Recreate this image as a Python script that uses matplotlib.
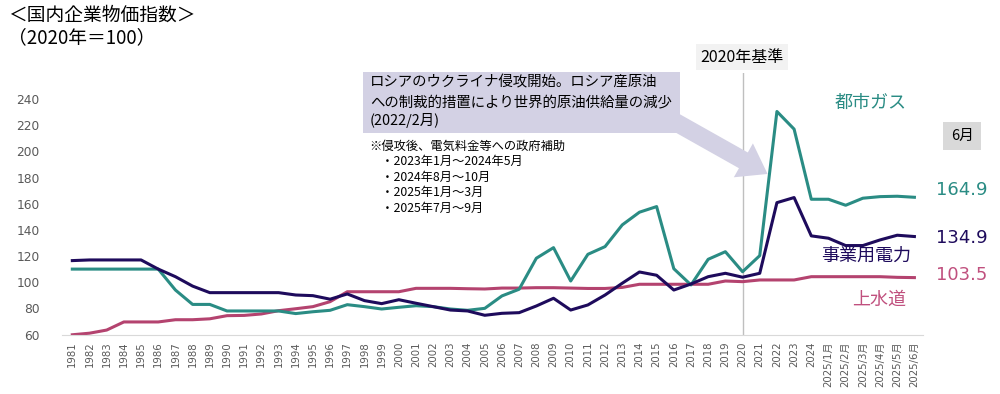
import matplotlib
matplotlib.use("Agg")
import matplotlib.pyplot as plt
from matplotlib.patches import Rectangle

plt.rcParams['font.family'] = ['Noto Sans CJK JP', 'DejaVu Sans']
num_font = ['DejaVu Sans', 'Noto Sans CJK JP']

# categories: 1981-2024 annual, then 2025 monthly
labels = [str(y) for y in range(1981, 2025)] + ['2025/1月', '2025/2月', '2025/3月',
                                                 '2025/4月', '2025/5月', '2025/6月']

gas = [110, 110, 110, 110, 110, 110, 94, 83, 83, 78,
       78, 78, 78, 76, 77.4, 78.5, 82.8, 81.3, 79.5, 80.8,
       82, 81.3, 79.5, 78.5, 80, 89.5, 94.6, 118.3, 126.4, 100.9,
       121.3, 127.2, 143.8, 153.5, 157.8, 110.3, 97.9, 117.5, 123.3, 108,
       120.3, 230.5, 217, 163.4,
       163.4, 158.8, 164.2, 165.4, 165.7, 164.9]

power = [116.5, 117, 117, 117, 117, 110, 104.2, 97, 92, 92,
         92, 92, 92, 90.2, 89.7, 87, 91, 85.9, 83.6, 86.6,
         83.9, 81.3, 78.7, 78, 74.7, 76.2, 76.7, 81.8, 87.7, 78.7,
         82.6, 90.2, 99.2, 107.8, 105.3, 94, 98.6, 104.2, 106.8, 103.8,
         106.8, 160.8, 164.7, 135.4,
         133.6, 128, 128, 132.3, 135.9, 134.9]

water = [59.8, 61, 63.4, 69.6, 69.6, 69.6, 71.3, 71.3, 72, 74.4,
         74.6, 75.7, 78.2, 79.7, 81.3, 85.1, 92.7, 92.7, 92.7, 92.7,
         95.3, 95.3, 95.3, 95, 94.8, 95.5, 95.5, 95.8, 95.8, 95.5,
         95.2, 95.2, 96, 98.4, 98.4, 98.4, 98.4, 98.4, 100.9, 100.4,
         101.7, 101.7, 101.7, 104.2,
         104.2, 104.2, 104.2, 104.2, 103.7, 103.5]

teal = '#2A8C84'
navy = '#1E0B5C'
pink = '#B4436F'
pink_txt = '#C0507E'
lav = '#D3D1E4'

fig = plt.figure(figsize=(10, 3.94), dpi=100)
ax = fig.add_axes([0.062, 0.151, 0.861, 0.664])

x = list(range(len(labels)))
ax.plot(x, water, color=pink, lw=2.2)
ax.plot(x, gas, color=teal, lw=2.2)
ax.plot(x, power, color=navy, lw=2.2)

ax.axvline(labels.index('2020'), color='#BFBFBF', lw=1, zorder=0)

ax.set_xlim(-0.6, 49.5)
ax.set_ylim(60, 260)
ax.set_yticks(range(60, 241, 20))
ax.set_yticklabels([str(v) for v in range(60, 241, 20)], family=num_font)
ax.set_xticks(x)
ax.set_xticklabels(labels, rotation=90, fontsize=7.3, color='#595959', family=num_font)
ax.tick_params(axis='y', labelsize=8.8, colors='#595959', length=0, pad=16)
ax.tick_params(axis='x', length=0, pad=5)
for s in ['top', 'right', 'left']:
    ax.spines[s].set_visible(False)
ax.spines['bottom'].set_color('#D9D9D9')

# titles
fig.text(0.008, 0.962, '＜国内企業物価指数＞', fontsize=13.5, va='center')
fig.text(0.008, 0.905, '（2020年＝100）', fontsize=13.5, va='center')

# 2020 base label
fig.text(0.742, 0.855, '2020年基準', fontsize=11.5, ha='center', va='center',
         bbox=dict(boxstyle='square,pad=0.3', fc='#F2F2F2', ec='none'))

# arrow + annotation box
ax.annotate('', xy=(0.770, 0.555), xycoords='figure fraction',
            xytext=(0.672, 0.695), textcoords='figure fraction',
            arrowprops=dict(arrowstyle='simple,head_width=1.4,head_length=1.0,tail_width=0.65',
                            mutation_scale=20, fc=lav, ec='none'))
fig.patches.append(Rectangle((0.363, 0.662), 0.317, 0.155, transform=fig.transFigure,
                             fc=lav, ec='none'))
fig.text(0.370, 0.790, 'ロシアのウクライナ侵攻開始。ロシア産原油', fontsize=10.4, va='center')
fig.text(0.370, 0.741, 'への制裁的措置により世界的原油供給量の減少', fontsize=10.4, va='center')
fig.text(0.370, 0.694, '(2022/2月)', fontsize=10.4, va='center')

note = ['※侵攻後、電気料金等への政府補助',
        '　・2023年1月～2024年5月',
        '　・2024年8月～10月',
        '　・2025年1月～3月',
        '　・2025年7月～9月']
for i, line in enumerate(note):
    fig.text(0.369, 0.628 - i * 0.039, line, fontsize=8.8, va='center')

# series labels
fig.text(0.871, 0.738, '都市ガス', fontsize=13, color=teal, ha='center', va='center')
fig.text(0.866, 0.352, '事業用電力', fontsize=13, color=navy, ha='center', va='center')
fig.text(0.879, 0.238, '上水道', fontsize=13, color=pink_txt, ha='center', va='center')

fig.text(0.962, 0.655, '6月', fontsize=10.5, ha='center', va='center',
         bbox=dict(boxstyle='square,pad=0.5', fc='#D9D9D9', ec='none'))
fig.text(0.962, 0.518, f'{gas[-1]:.1f}', fontsize=13, color=teal, ha='center', va='center', family=num_font)
fig.text(0.962, 0.396, f'{power[-1]:.1f}', fontsize=13, color=navy, ha='center', va='center', family=num_font)
fig.text(0.962, 0.302, f'{water[-1]:.1f}', fontsize=13, color=pink_txt, ha='center', va='center', family=num_font)

fig.savefig('out.png', dpi=100)
